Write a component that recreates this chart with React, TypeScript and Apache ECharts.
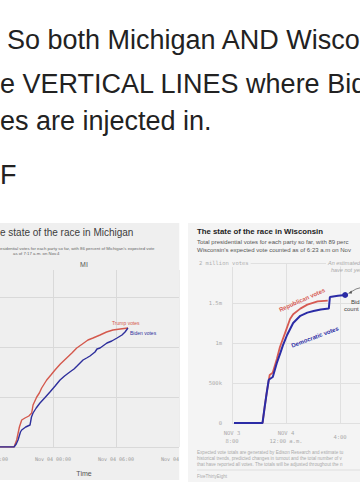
import React, { useEffect, useRef } from "react";
import * as echarts from "echarts";

// ---------- Tweet text ----------
const tweetLines = ["So both Michigan AND Wisco", "e VERTICAL LINES where Bide", "es are injected in.", "F"];

// ---------- Michigan (hours relative to Nov 04 00:00, votes in millions) ----------
const miTrumpHours = [-6, -3.71, -3.46, -3.2, -2.98, -2.67, -2.3, -2.03, -1.9, -1.55, -1.3, -1.08, -0.6, -0.2, 0.19, 0.7, 1.3, 1.8, 2.26, 2.8, 3.33, 3.81, 4.48, 5.1, 5.71, 6.4, 7.14];
const miTrumpVotes = [0, 0, 0.14, 0.4, 0.54, 0.58, 0.62, 0.68, 0.84, 1.0, 1.08, 1.18, 1.34, 1.44, 1.54, 1.66, 1.78, 1.88, 1.98, 2.06, 2.14, 2.18, 2.24, 2.3, 2.34, 2.36, 2.38];
const miBidenHours = [-6, -3.71, -3.5, -3.33, -3.1, -2.98, -2.6, -2.19, -2.05, -1.9, -1.6, -1.24, -0.8, -0.29, 0.2, 0.67, 1.1, 1.6, 2.0, 2.29, 2.86, 3.2, 3.52, 4.0, 4.19, 4.48, 5.14, 5.6, 6.1, 6.57, 6.86, 7.14];
const miBidenVotes = [0, 0, 0.06, 0.14, 0.3, 0.34, 0.4, 0.44, 0.6, 0.68, 0.78, 0.88, 0.98, 1.1, 1.22, 1.34, 1.42, 1.5, 1.56, 1.62, 1.74, 1.78, 1.82, 1.9, 1.96, 1.98, 2.08, 2.12, 2.18, 2.24, 2.3, 2.38];
const miTickHours = [-6, 0, 6, 12];
const miTickLabels = ["Nov 03 18:00", "Nov 04 00:00", "Nov 04 06:00", "Nov 04 12:00"];

// ---------- Wisconsin (hours relative to Nov 4 12:00 a.m., votes in millions) ----------
const wiRepHours = [-3.85, -1.74, -1.58, -1.43, -1.21, -0.98, -0.68, -0.45, -0.08, 0.3, 0.53, 1.06, 1.58, 2.34, 3.09];
const wiRepVotes = [0, 0, 0.2, 0.38, 0.6, 0.63, 0.8, 0.95, 1.12, 1.3, 1.36, 1.43, 1.48, 1.52, 1.53];
const wiDemHours = [-3.85, -1.74, -1.58, -1.43, -1.28, -0.98, -0.68, -0.45, -0.23, 0.08, 0.53, 1.06, 1.58, 2.04, 2.57, 3.17, 3.25, 3.85, 4.38];
const wiDemVotes = [0, 0, 0.2, 0.375, 0.54, 0.575, 0.75, 0.86, 0.97, 1.1, 1.25, 1.34, 1.38, 1.4, 1.42, 1.43, 1.575, 1.59, 1.6];
const wiTickHours = [-4, 0, 4];
const wiTickLabels = ["NOV 3\n8:00", "NOV 4\n12:00 a.m.", "4:00"];
const wiYTicks = [0, 0.5, 1, 1.5];
const wiYLabels = ["0", "500k", "1m", "1.5m"];

const zip = (a: number[], b: number[]) => a.map((x, i) => [x, b[i]]);
const lookup = (vals: number[], labels: string[]) => (v: number) => {
  const i = vals.findIndex((t) => Math.abs(t - v) < 1e-6);
  return i >= 0 ? labels[i] : "";
};

const MONO = "DejaVu Sans Mono";
const SANS = "Liberation Sans";
const RED_L = "#d4594d";
const BLUE_L = "#2e2f9c";
const RED_R = "#d65a52";
const BLUE_R = "#2b2ca6";

export default function App() {
  const ref = useRef<HTMLDivElement>(null);
  useEffect(() => {
    if (!ref.current) return;
    const chart = echarts.init(ref.current, null, { renderer: "svg" });

    const demData: any[] = zip(wiDemHours, wiDemVotes).map((p, i, arr) =>
      i === arr.length - 1
        ? { value: p, symbol: "circle", symbolSize: 6, itemStyle: { color: BLUE_R } }
        : { value: p }
    );

    const tweet = tweetLines.map((t, i) => ({
      type: "text",
      z: 10,
      x: [7, 0, 0, 0][i],
      y: [39.5, 84, 121, 175][i],
      style: { text: t, fontSize: 27, fontFamily: SANS, fill: "#222", verticalAlign: "middle" },
    }));

    const smallText = (text: string, x: number, y: number, extra: any = {}) => ({
      type: "text",
      z: extra.z ?? 6,
      x,
      y,
      rotation: extra.rotation ?? 0,
      style: {
        text,
        fontFamily: SANS,
        verticalAlign: "middle",
        ...extra.style,
      },
    });

    const option: any = {
      animation: false,
      backgroundColor: "#ffffff",
      grid: [
        { left: -10, top: 270, width: 189, height: 177, outerBoundsMode: "none", containLabel: false },
        { left: 232, top: 263, width: 128, height: 160, outerBoundsMode: "none", containLabel: false },
      ],
      xAxis: [
        {
          gridIndex: 0,
          type: "value",
          min: -6,
          max: 12,
          interval: 6,
          z: 0,
          axisLine: { show: false },
          axisTick: { show: false },
          splitLine: { show: true, lineStyle: { color: "#d9d9d9", width: 1 } },
          axisLabel: {
            formatter: lookup(miTickHours, miTickLabels),
            fontFamily: MONO,
            fontSize: 5,
            color: "#9a9a9a",
            margin: 12,
            verticalAlign: "middle",
            hideOverlap: false,
          },
        },
        {
          gridIndex: 1,
          type: "value",
          min: -4,
          max: 5.48,
          interval: 4,
          z: 4,
          axisLine: { show: false },
          axisTick: { show: false },
          splitLine: { show: true, showMaxLine: false, lineStyle: { color: "#e0e0e0", width: 1 } },
          axisLabel: {
            formatter: lookup(wiTickHours, wiTickLabels),
            fontFamily: MONO,
            fontSize: 5.5,
            lineHeight: 8,
            color: "#aaaaaa",
            margin: 14,
            verticalAlign: "middle",
            showMaxLabel: false,
          },
        },
      ],
      yAxis: [
        {
          gridIndex: 0,
          type: "value",
          min: 0,
          max: 3.54,
          interval: 1,
          z: 0,
          axisLine: { show: false },
          axisTick: { show: false },
          axisLabel: { show: false },
          splitLine: { show: true, showMaxLine: false, lineStyle: { color: "#d9d9d9", width: 1 } },
        },
        {
          gridIndex: 1,
          type: "value",
          min: 0,
          max: 2,
          interval: 0.5,
          z: 4,
          axisLine: { show: false },
          axisTick: { show: false },
          axisLabel: {
            formatter: lookup(wiYTicks, wiYLabels),
            fontFamily: MONO,
            fontSize: 5.5,
            color: "#aaaaaa",
            margin: 10,
          },
          splitLine: { show: true, lineStyle: { color: "#e0e0e0", width: 1 } },
        },
      ],
      series: [
        {
          type: "line",
          xAxisIndex: 0,
          yAxisIndex: 0,
          z: 2,
          data: zip(miTrumpHours, miTrumpVotes),
          showSymbol: false,
          lineStyle: { color: RED_L, width: 1.4 },
        },
        {
          type: "line",
          xAxisIndex: 0,
          yAxisIndex: 0,
          z: 2,
          data: zip(miBidenHours, miBidenVotes),
          showSymbol: false,
          lineStyle: { color: BLUE_L, width: 1.4 },
        },
        {
          type: "line",
          xAxisIndex: 1,
          yAxisIndex: 1,
          z: 5,
          data: zip(wiRepHours, wiRepVotes),
          showSymbol: false,
          lineStyle: { color: RED_R, width: 1.8 },
        },
        {
          type: "line",
          xAxisIndex: 1,
          yAxisIndex: 1,
          z: 6,
          data: demData,
          symbol: "none",
          showSymbol: true,
          lineStyle: { color: BLUE_R, width: 2 },
          itemStyle: { color: BLUE_R },
        },
      ],
      graphic: {
        elements: [
          // panel backgrounds
          { type: "rect", z: -10, shape: { x: -2, y: 223, width: 181.5, height: 257 }, style: { fill: "#efefef" } },
          { type: "rect", z: 3, shape: { x: 179.5, y: 223, width: 9, height: 262 }, style: { fill: "#ffffff" } },
          { type: "rect", z: 3, shape: { x: 188, y: 223, width: 180, height: 259 }, style: { fill: "#f4f4f4" } },
          ...tweet,
          // Michigan texts
          smallText("e state of the race in Michigan", 0, 232, { z: 1, style: { fontSize: 10, fill: "#3d3d3d" } }),
          smallText("esidential votes for each party so far, with 86 percent of Michigan's expected vote", 0, 248, { z: 1, style: { fontSize: 4.3, fill: "#666" } }),
          smallText("as of 7:17 a.m. on Nov.4", 13, 253, { z: 1, style: { fontSize: 4.3, fill: "#666" } }),
          smallText("MI", 84, 264, { z: 1, style: { fontSize: 7, fill: "#555", align: "center" } }),
          smallText("Trump votes", 112, 323, { z: 2, style: { fontSize: 5, fill: RED_L } }),
          smallText("Biden votes", 130, 333, { z: 2, style: { fontSize: 5, fill: BLUE_L } }),
          smallText("Time", 84, 473, { z: 1, style: { fontSize: 7, fill: "#555", align: "center" } }),
          // Wisconsin texts
          smallText("The state of the race in Wisconsin", 197, 231, { style: { fontSize: 7.8, fontWeight: "bold", fill: "#222" } }),
          smallText("Total presidential votes for each party so far, with 89 perc", 197, 242, { style: { fontSize: 6, fill: "#555" } }),
          smallText("Wisconsin's expected vote counted as of 6:23 a.m on Nov", 197, 250, { style: { fontSize: 6, fill: "#555" } }),
          smallText("2 million votes", 199, 263, { style: { fontSize: 5.5, fontFamily: MONO, fill: "#b0b0b0", backgroundColor: "#f4f4f4", padding: [1, 2, 1, 0] } }),
          smallText("An estimated", 326, 262.5, { style: { fontSize: 5.5, fontStyle: "italic", fill: "#aaa", backgroundColor: "#f4f4f4", padding: [1, 0, 1, 2] } }),
          smallText("have not yet", 331, 269.5, { style: { fontSize: 5.5, fontStyle: "italic", fill: "#aaa" } }),
          smallText("Republican votes", 302, 300, { rotation: 0.42, style: { fontSize: 6, fontWeight: "bold", fill: RED_R, align: "center" } }),
          smallText("Democratic votes", 315, 337, { rotation: 0.36, style: { fontSize: 6, fontWeight: "bold", fill: BLUE_R, align: "center" } }),
          { type: "polyline", z: 6, shape: { points: [[363, 287], [356, 289], [350, 292.5]] }, style: { stroke: "#555", lineWidth: 0.7, fill: null } },
          { type: "polygon", z: 6, shape: { points: [[348, 293.5], [351.5, 290.6], [352, 293.6]] }, style: { fill: "#555" } },
          smallText("Bid", 351, 302, { style: { fontSize: 6, fill: "#444" } }),
          smallText("count", 344, 309, { style: { fontSize: 6, fill: "#444" } }),
          smallText("Expected vote totals are generated by Edison Research and estimate tu", 197, 452, { style: { fontSize: 4.6, fill: "#aaa" } }),
          smallText("historical trends, predicted changes in turnout and the total number of v", 197, 458, { style: { fontSize: 4.6, fill: "#aaa" } }),
          smallText("that have reported all votes. The totals will be adjusted throughout the n", 197, 464, { style: { fontSize: 4.6, fill: "#aaa" } }),
          { type: "line", z: 6, shape: { x1: 197, y1: 470, x2: 362, y2: 470 }, style: { stroke: "#d0d0d0", lineWidth: 0.6 } },
          smallText("FiveThirtyEight", 197, 476, { style: { fontSize: 4.5, fill: "#aaa" } }),
        ],
      },
    };

    chart.setOption(option);
    return () => chart.dispose();
  }, []);

  return (
    <div
      ref={ref}
      style={{ position: "fixed", left: 0, top: 0, width: 360, height: 504, background: "#fff" }}
    />
  );
}
